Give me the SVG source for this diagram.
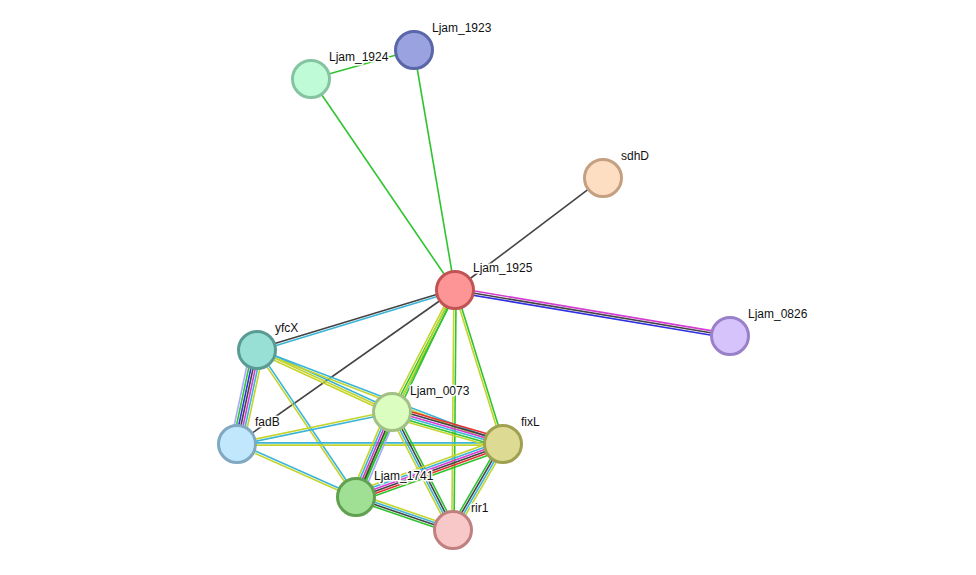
<svg xmlns="http://www.w3.org/2000/svg" width="976" height="575" viewBox="0 0 976 575">
<style>
line{stroke-width:1.6;fill:none}
.g{stroke:#2fc42f}.k{stroke:#444}.c{stroke:#3ab4d8}.y{stroke:#c4d42c}.m{stroke:#d43cd4}.b{stroke:#3030e0}.r{stroke:#e83030}.l{stroke:#a8a8ff}
circle{stroke-width:3}
text{font-family:"Liberation Sans",Arial,sans-serif;font-size:12px;fill:#111;stroke:#fff;stroke-width:3;paint-order:stroke;stroke-linejoin:round}
</style>
<rect width="976" height="575" fill="#fff"/>
<g id="edges">
<g transform="translate(311,79) rotate(-15.7)"><line x2="107" class="g"/></g>
<g transform="translate(311,79) rotate(55.7)"><line x2="255.5" class="g"/></g>
<g transform="translate(414,50) rotate(80.3)"><line x2="243.5" class="g"/></g>
<g transform="translate(455,290) rotate(-37.1)"><line x2="185.6" class="k"/></g>
<g transform="translate(455,290) rotate(9.5)"><line x2="278.8" y1="-2.2" y2="-2.2" class="m"/><line x2="278.8" class="k"/><line x2="278.8" y1="2.2" y2="2.2" class="b"/></g>
<g transform="translate(455,290) rotate(163.1)"><line x2="206.9" y1="-1.1" y2="-1.1" class="c"/><line x2="206.9" y1="1.1" y2="1.1" class="k"/></g>
<g transform="translate(455,290) rotate(144.8)"><line x2="266.9" class="k"/></g>
<g transform="translate(455,290) rotate(117.3)"><line x2="137.3" y1="-2.2" y2="-2.2" class="g"/><line x2="137.3" class="g"/><line x2="137.3" y1="2.2" y2="2.2" class="y"/></g>
<g transform="translate(455,290) rotate(115.6)"><line x2="229.5" y1="-1.1" y2="-1.1" class="g"/><line x2="229.5" y1="1.1" y2="1.1" class="y"/></g>
<g transform="translate(455,290) rotate(90.5)"><line x2="240" y1="-1.1" y2="-1.1" class="g"/><line x2="240" y1="1.1" y2="1.1" class="y"/></g>
<g transform="translate(455,290) rotate(72.7)"><line x2="161.3" y1="-1.1" y2="-1.1" class="g"/><line x2="161.3" y1="1.1" y2="1.1" class="y"/></g>
<g transform="translate(257,350) rotate(102)"><line x2="96.1" y1="-6.6" y2="-6.6" class="y"/><line x2="96.1" y1="-4.4" y2="-4.4" class="c"/><line x2="96.1" y1="-2.2" y2="-2.2" class="m"/><line x2="96.1" class="k"/><line x2="96.1" y1="2.2" y2="2.2" class="b"/><line x2="96.1" y1="4.4" y2="4.4" class="g"/><line x2="96.1" y1="6.6" y2="6.6" class="l"/></g>
<g transform="translate(257,350) rotate(24.7)"><line x2="148.6" y1="-2.2" y2="-2.2" class="c"/><line x2="148.6" class="y"/><line x2="148.6" y1="2.2" y2="2.2" class="y"/></g>
<g transform="translate(257,350) rotate(20.9)"><line x2="263.3" y1="-1.1" y2="-1.1" class="c"/><line x2="263.3" y1="1.1" y2="1.1" class="y"/></g>
<g transform="translate(257,350) rotate(56)"><line x2="177.2" y1="-1.1" y2="-1.1" class="c"/><line x2="177.2" y1="1.1" y2="1.1" class="y"/></g>
<g transform="translate(237,444) rotate(-11.7)"><line x2="158.3" y1="-1.1" y2="-1.1" class="y"/><line x2="158.3" y1="1.1" y2="1.1" class="c"/></g>
<g transform="translate(237,444) rotate(0)"><line x2="266" y1="-1.1" y2="-1.1" class="c"/><line x2="266" y1="1.1" y2="1.1" class="y"/></g>
<g transform="translate(237,444) rotate(24)"><line x2="130.3" y1="-1.1" y2="-1.1" class="c"/><line x2="130.3" y1="1.1" y2="1.1" class="y"/></g>
<g transform="translate(392,412) rotate(16.1)"><line x2="115.5" y1="-5.5" y2="-5.5" class="r"/><line x2="115.5" y1="-3.3" y2="-3.3" class="k"/><line x2="115.5" y1="-1.1" y2="-1.1" class="m"/><line x2="115.5" y1="1.1" y2="1.1" class="c"/><line x2="115.5" y1="3.3" y2="3.3" class="g"/><line x2="115.5" y1="5.5" y2="5.5" class="y"/></g>
<g transform="translate(392,412) rotate(113)"><line x2="92.3" y1="-5.5" y2="-5.5" class="l"/><line x2="92.3" y1="-3.3" y2="-3.3" class="g"/><line x2="92.3" y1="-1.1" y2="-1.1" class="k"/><line x2="92.3" y1="1.1" y2="1.1" class="m"/><line x2="92.3" y1="3.3" y2="3.3" class="c"/><line x2="92.3" y1="5.5" y2="5.5" class="y"/></g>
<g transform="translate(392,412) rotate(62.7)"><line x2="132.8" y1="-3.3" y2="-3.3" class="g"/><line x2="132.8" y1="-1.1" y2="-1.1" class="k"/><line x2="132.8" y1="1.1" y2="1.1" class="c"/><line x2="132.8" y1="3.3" y2="3.3" class="y"/></g>
<g transform="translate(503,444) rotate(160.2)"><line x2="156.3" y1="-5.5" y2="-5.5" class="g"/><line x2="156.3" y1="-3.3" y2="-3.3" class="r"/><line x2="156.3" y1="-1.1" y2="-1.1" class="k"/><line x2="156.3" y1="1.1" y2="1.1" class="m"/><line x2="156.3" y1="3.3" y2="3.3" class="c"/><line x2="156.3" y1="5.5" y2="5.5" class="y"/></g>
<g transform="translate(503,444) rotate(120.2)"><line x2="99.5" y1="-3.3" y2="-3.3" class="y"/><line x2="99.5" y1="-1.1" y2="-1.1" class="c"/><line x2="99.5" y1="1.1" y2="1.1" class="k"/><line x2="99.5" y1="3.3" y2="3.3" class="g"/></g>
<g transform="translate(356,497) rotate(18.8)"><line x2="102.5" y1="-3.3" y2="-3.3" class="y"/><line x2="102.5" y1="-1.1" y2="-1.1" class="c"/><line x2="102.5" y1="1.1" y2="1.1" class="k"/><line x2="102.5" y1="3.3" y2="3.3" class="g"/></g>
</g>
<g id="n1923"><circle cx="414" cy="50" r="18.5" fill="#9aa3e0" stroke="#5a66a8"/><text x="432" y="32">Ljam_1923</text></g>
<g id="n1924"><circle cx="311" cy="79" r="18.5" fill="#c0fbd8" stroke="#84c4a0"/><text x="329" y="61">Ljam_1924</text></g>
<g id="nsdhD"><circle cx="603" cy="178" r="18.5" fill="#fedec3" stroke="#c4a080"/><text x="621" y="160">sdhD</text></g>
<g id="n1925"><circle cx="455" cy="290" r="18.5" fill="#fd9596" stroke="#c05454"/><text x="473" y="272">Ljam_1925</text></g>
<g id="n0826"><circle cx="730" cy="336" r="18.5" fill="#d6c3fc" stroke="#9a80c8"/><text x="748" y="318">Ljam_0826</text></g>
<g id="nyfcX"><circle cx="257" cy="350" r="18.5" fill="#98e0d6" stroke="#5a9c94"/><text x="275" y="332">yfcX</text></g>
<g id="n0073"><circle cx="392" cy="412" r="18.5" fill="#dcfdc0" stroke="#a0c084"/><text x="410" y="395">Ljam_0073</text></g>
<g id="nfixL"><circle cx="503" cy="444" r="18.5" fill="#ddda94" stroke="#a0a050"/><text x="521" y="426">fixL</text></g>
<g id="nfadB"><circle cx="237" cy="444" r="18.5" fill="#c0e7fb" stroke="#80a8c0"/><text x="255" y="426">fadB</text></g>
<g id="n1741"><circle cx="356" cy="497" r="18.5" fill="#a0e094" stroke="#60a050"/><text x="374" y="480">Ljam_1741</text></g>
<g id="nrir1"><circle cx="453" cy="530" r="18.5" fill="#f8c8c8" stroke="#c08080"/><text x="471" y="512">rir1</text></g>
</svg>
